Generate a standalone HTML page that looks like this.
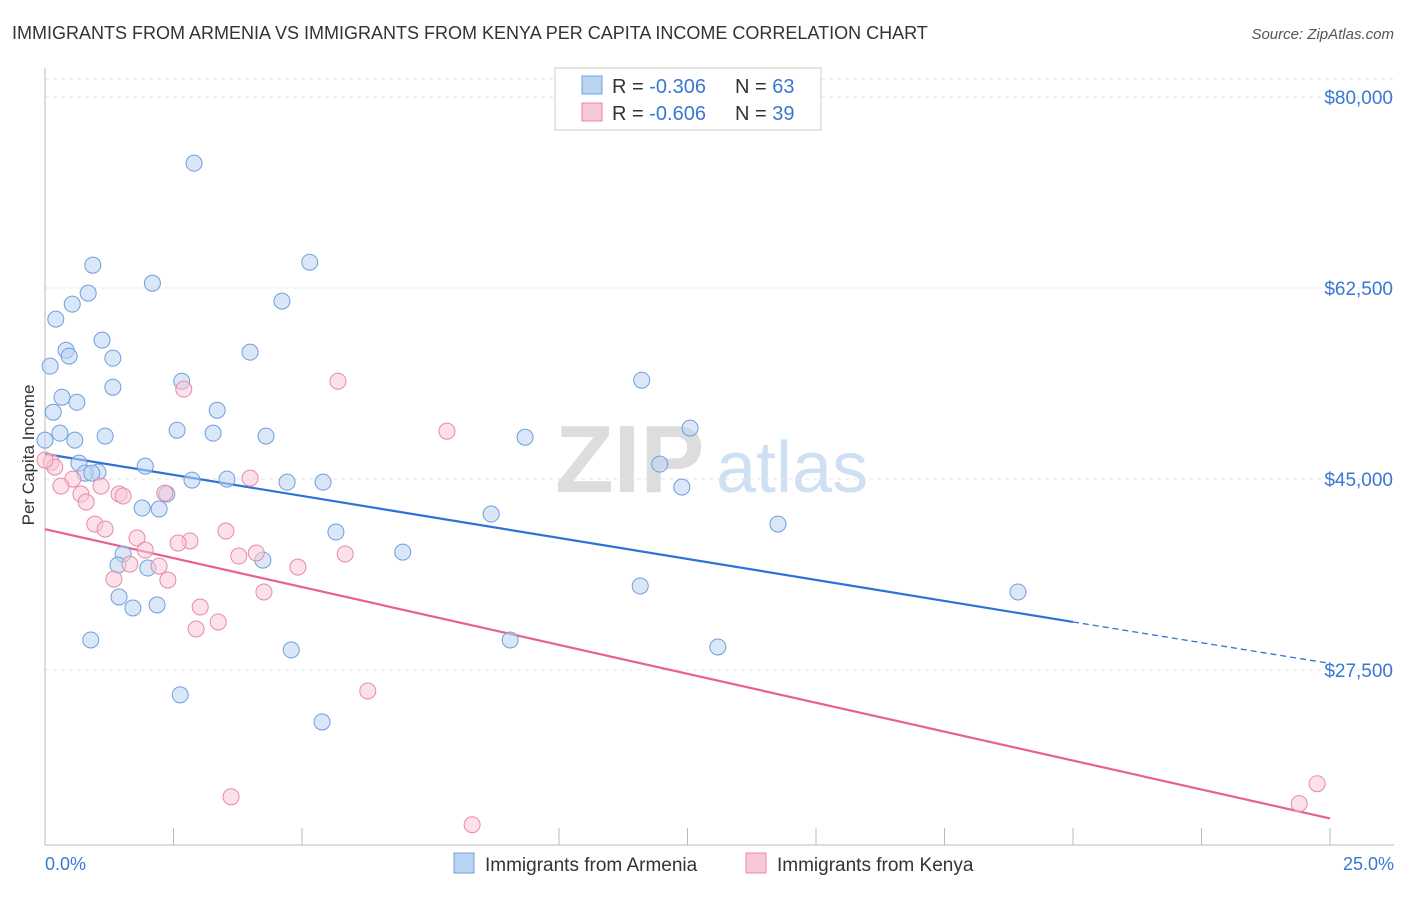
<!DOCTYPE html>
<html><head><meta charset="utf-8"><style>
body{margin:0;background:#fff;font-family:"Liberation Sans",sans-serif;}
svg text{font-family:"Liberation Sans",sans-serif;}
</style></head><body>
<svg width="1406" height="892">
<text x="12" y="39" font-size="18" fill="#333">IMMIGRANTS FROM ARMENIA VS IMMIGRANTS FROM KENYA PER CAPITA INCOME CORRELATION CHART</text>
<text x="1394" y="39" font-size="15" fill="#555" text-anchor="end" font-style="italic">Source: ZipAtlas.com</text>
<text x="555" y="492" font-size="96" fill="#ddd" font-weight="bold" font-family="Liberation Serif">ZIP</text>
<text x="716" y="492" font-size="72" fill="#cfe0f3">atlas</text>
<g id="grid"></g>
<line x1="45" y1="68" x2="45" y2="845" stroke="#bbb"/>
<line x1="45" y1="845" x2="1394" y2="845" stroke="#bbb"/>
<text x="34" y="455" font-size="17" fill="#333" text-anchor="middle" transform="rotate(-90 34 455)">Per Capita Income</text>
<text x="45" y="870" font-size="18" fill="#3a78d0">0.0%</text>
<text x="1394" y="870" font-size="18" fill="#3a78d0" text-anchor="end">25.0%</text>
<g id="lines"></g>
<g id="pts"></g>
<g>
<rect x="555" y="68" width="266" height="62" fill="#fff" stroke="#ccc"/>
<rect x="582" y="76" width="20" height="18" fill="#b9d3f3" stroke="#6f9fdc"/>
<rect x="582" y="103" width="20" height="18" fill="#f9c8d6" stroke="#e889a8"/>
<text x="612" y="93" font-size="20" fill="#333">R = <tspan fill="#3a78d0">-0.306</tspan></text>
<text x="735" y="93" font-size="20" fill="#333">N = <tspan fill="#3a78d0">63</tspan></text>
<text x="612" y="120" font-size="20" fill="#333">R = <tspan fill="#3a78d0">-0.606</tspan></text>
<text x="735" y="120" font-size="20" fill="#333">N = <tspan fill="#3a78d0">39</tspan></text>
</g>
<g>
<rect x="454" y="853" width="20" height="20" fill="#b9d3f3" stroke="#6f9fdc"/>
<text x="485" y="871" font-size="19" fill="#333">Immigrants from Armenia</text>
<rect x="746" y="853" width="20" height="20" fill="#f9c8d6" stroke="#e889a8"/>
<text x="777" y="871" font-size="19" fill="#333">Immigrants from Kenya</text>
</g>
</svg>
<script>
const yTicks=[80000,62500,45000,27500];
const yTickLabels=["$80,000","$62,500","$45,000","$27,500"];
const xTicks=[2.5,5,10,12.5,15,17.5,20,22.5,25];
const armeniaX=[2.9,0.93,5.15,2.09,0.84,0.53,4.61,0.21,1.11,0.41,0.47,3.99,1.32,0.1,1.32,2.66,11.61,0.33,0.62,0.16,3.35,2.57,3.27,4.3,9.34,12.55,0.29,1.17,0.58,0,0.66,1.95,11.96,1.03,0.78,0.91,2.86,3.54,4.71,5.41,12.39,2.37,1.89,2.22,8.68,14.26,5.66,1.52,6.96,4.24,1.42,2.0,1.44,1.71,2.18,11.58,18.93,0.89,9.05,4.79,13.09,2.63,5.39];
const armeniaY=[73940,64590,64860,62940,62030,61020,61300,59650,57720,56800,56260,56620,56070,55340,53410,53960,54050,52490,52030,51120,51300,49470,49200,48930,48830,49660,49200,48930,48560,48560,46450,46180,46360,45630,45540,45540,44900,44990,44710,44710,44260,43620,42340,42250,41790,40870,40140,38130,38300,37570,37110,36840,34190,33180,33460,35200,34650,30250,30250,29340,29610,25220,22740];
const kenyaX=[5.7,2.7,7.82,0.12,0.19,0,3.99,0.54,0.31,1.09,1.44,0.7,2.33,1.52,0.8,0.97,1.17,3.52,1.79,2.82,2.59,1.95,4.11,3.77,5.84,1.65,2.22,4.92,1.34,2.39,4.26,3.02,3.37,2.94,6.28,3.62,8.31,24.75,24.4];
const kenyaY=[53960,53230,49380,46540,46090,46730,45080,44990,44350,44350,43620,43620,43710,43440,42890,40870,40410,40230,39590,39320,39130,38490,38220,37940,38130,37200,37020,36930,35830,35740,34650,33270,31900,31260,25580,15880,13320,17080,15250];
const X=v=>45+v*51.4, Y=v=>97+(80000-v)/1000*10.914;
const NS="http://www.w3.org/2000/svg";
const grid=document.getElementById('grid');
function mk(tag,attrs,parent){const e=document.createElementNS(NS,tag);for(const k in attrs)e.setAttribute(k,attrs[k]);parent.appendChild(e);return e;}
const topLine=mk('line',{x1:45,y1:79,x2:1394,y2:79,stroke:'#e3e3e3','stroke-dasharray':'4 4'},grid);


yTicks.forEach((t,i)=>{
 const g=mk('line',{x1:45,y1:Y(t),x2:1394,y2:Y(t),stroke:'#e3e3e3','stroke-dasharray':'4 4'},grid);
 
 
 const tx=mk('text',{x:1393,y:Y(t)+7,'font-size':19,fill:'#3a78d0','text-anchor':'end'},grid);
 tx.textContent=yTickLabels[i];
 
 
});
xTicks.forEach(t=>{
 const l=mk('line',{x1:X(t),y1:828,x2:X(t),y2:845,stroke:'#bbb'},grid);
 
 
});
const lines=document.getElementById('lines');
const bl=mk('line',{x1:X(0),y1:Y(47300),x2:X(20),y2:Y(31900),stroke:'#2f72d6','stroke-width':2.2},lines);


const bd=mk('line',{x1:X(20),y1:Y(31900),x2:X(25),y2:Y(28100),stroke:'#2f72d6','stroke-width':1.3,'stroke-dasharray':'6 4'},lines);


const pl=mk('line',{x1:X(0),y1:Y(40400),x2:X(25),y2:Y(13900),stroke:'#e8608e','stroke-width':2.2},lines);


const pts=document.getElementById('pts');
armeniaX.forEach((x,i)=>{
 const c=mk('circle',{cx:X(x),cy:Y(armeniaY[i]),r:8,fill:'rgba(185,211,243,0.55)',stroke:'#6f9fdc','stroke-width':1},pts);
 
 
});
kenyaX.forEach((x,i)=>{
 const c=mk('circle',{cx:X(x),cy:Y(kenyaY[i]),r:8,fill:'rgba(249,200,214,0.55)',stroke:'#e889a8','stroke-width':1},pts);
 
 
});
</script>
</body></html>
